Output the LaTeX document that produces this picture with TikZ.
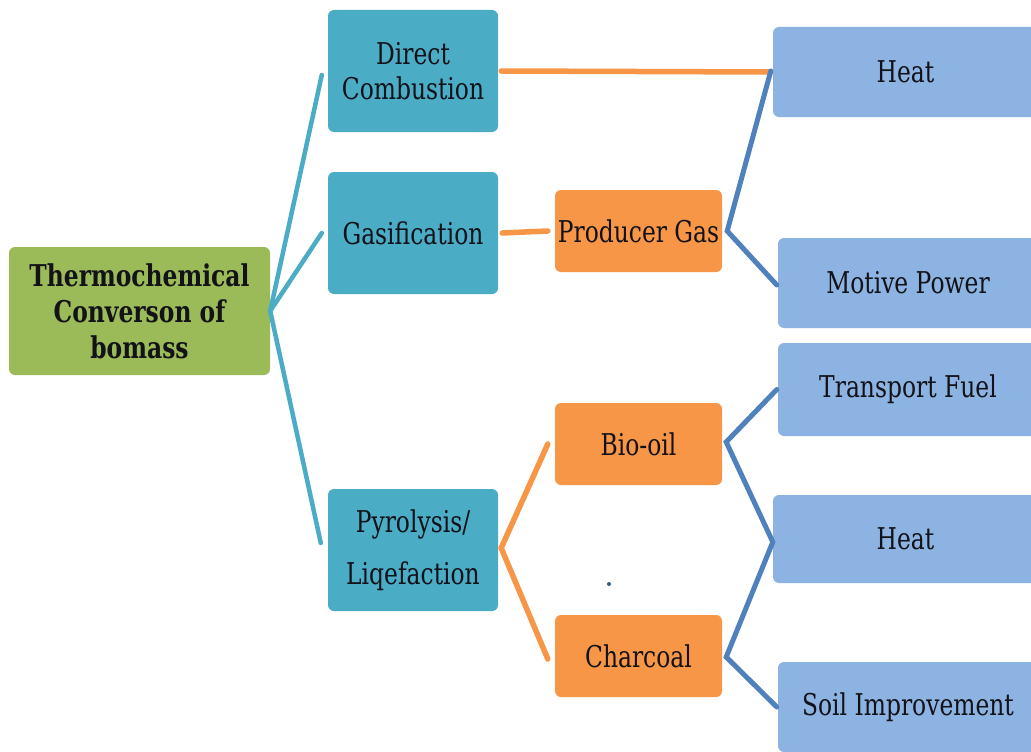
\documentclass[tikz,border=0pt]{standalone}
\usepackage{fontspec}
\setmainfont{DejaVu Serif}[FakeStretch=0.78]
\usetikzlibrary{calc}
\definecolor{rootgreen}{HTML}{9BBB59}
\definecolor{tealbox}{HTML}{4BACC6}
\definecolor{orangebox}{HTML}{F79646}
\definecolor{bluebox}{HTML}{8DB3E2}
\definecolor{blueline}{HTML}{4F81BD}
\definecolor{txt}{HTML}{121218}
\tikzset{
  box/.style={rounded corners=6pt, inner sep=0pt, align=center, text=txt,
              font=\fontsize{30}{35}\selectfont},
  rootbox/.style={box, fill=rootgreen, minimum width=261pt, minimum height=128pt,
              font=\fontsize{30}{36}\selectfont\bfseries},
  procbox/.style={box, fill=tealbox, minimum width=170pt, minimum height=122pt},
  prodbox/.style={box, fill=orangebox, minimum width=167pt, minimum height=82pt},
  usebox/.style={box, fill=bluebox, minimum width=262pt, minimum height=90pt},
  tealline/.style={draw=tealbox, line width=4.5pt, line cap=round},
  orangeline/.style={draw=orangebox, line width=5.5pt, line cap=round},
  blueline/.style={draw=blueline, line width=5pt, line cap=round, line join=miter},
  dotmark/.style={circle, fill=blueline!70!black, inner sep=0pt, minimum size=4pt}
}
\begin{document}
\begin{tikzpicture}[x=1pt, y=-1pt]
\path[use as bounding box] (0,0) rectangle (1031,752);
\clip (0,0) rectangle (1031,752);
\fill[white] (0,0) rectangle (1031,752);

% nodes
\node[rootbox] (root) at (139.5,311) {Thermochemical\\Converson of\\bomass};
\node[procbox] (dc) at (413,71) {Direct\\Combustion};
\node[procbox] (gas) at (413,233) {Gasification};
\node[procbox, font=\fontsize{30}{52}\selectfont] (pyro) at (413,550) {Pyrolysis/\\Liqefaction};

\node[prodbox] (pg) at (638.5,231) {Producer Gas};
\node[prodbox] (bio) at (638.5,444) {Bio-oil};
\node[prodbox] (char) at (638.5,656) {Charcoal};

\node[usebox, minimum width=265pt] (heatA) at (905.5,72) {Heat};
\node[usebox, minimum width=260pt] (motive) at (908,283) {Motive Power};
\node[usebox, minimum width=260pt, minimum height=93pt] (transport) at (908,389.5) {Transport Fuel};
\node[usebox, minimum width=265pt, minimum height=88pt] (heatB) at (905.5,539) {Heat};
\node[usebox, minimum width=260pt] (soil) at (908,707) {Soil Improvement};

\node[dotmark] (dot) at (609,584) {};

% connectors
\draw[tealline] (root.east) -- ([xshift=-6pt,yshift=-4pt]dc.west);
\draw[tealline] (root.east) -- ([xshift=-6pt]gas.west);
\draw[tealline] (root.east) -- ([xshift=-7pt,yshift=7pt]pyro.west);

\draw[orangeline] ([xshift=3pt]dc.east) -- ([xshift=-2pt]heatA.west);
\draw[orangeline] ([xshift=4pt]gas.east) -- ([xshift=-7pt]pg.west);
\draw[orangeline] ([xshift=3pt,yshift=2pt]pyro.east) -- ([xshift=-7pt]bio.west);
\draw[orangeline] ([xshift=3pt,yshift=2pt]pyro.east) -- ([xshift=-7pt,yshift=-3pt]char.west);

\draw[blueline] ([xshift=-2pt,yshift=1pt]heatA.west) -- ([xshift=5pt]pg.east) -- ([xshift=-1pt,yshift=-2pt]motive.west);
\draw[blueline] ([xshift=-1pt]transport.west) -- ([xshift=4pt,yshift=2pt]bio.east) -- ([yshift=-3pt]heatB.west) -- ([xshift=4pt,yshift=-1pt]char.east) -- ([xshift=-1pt]soil.west);
\end{tikzpicture}
\end{document}
